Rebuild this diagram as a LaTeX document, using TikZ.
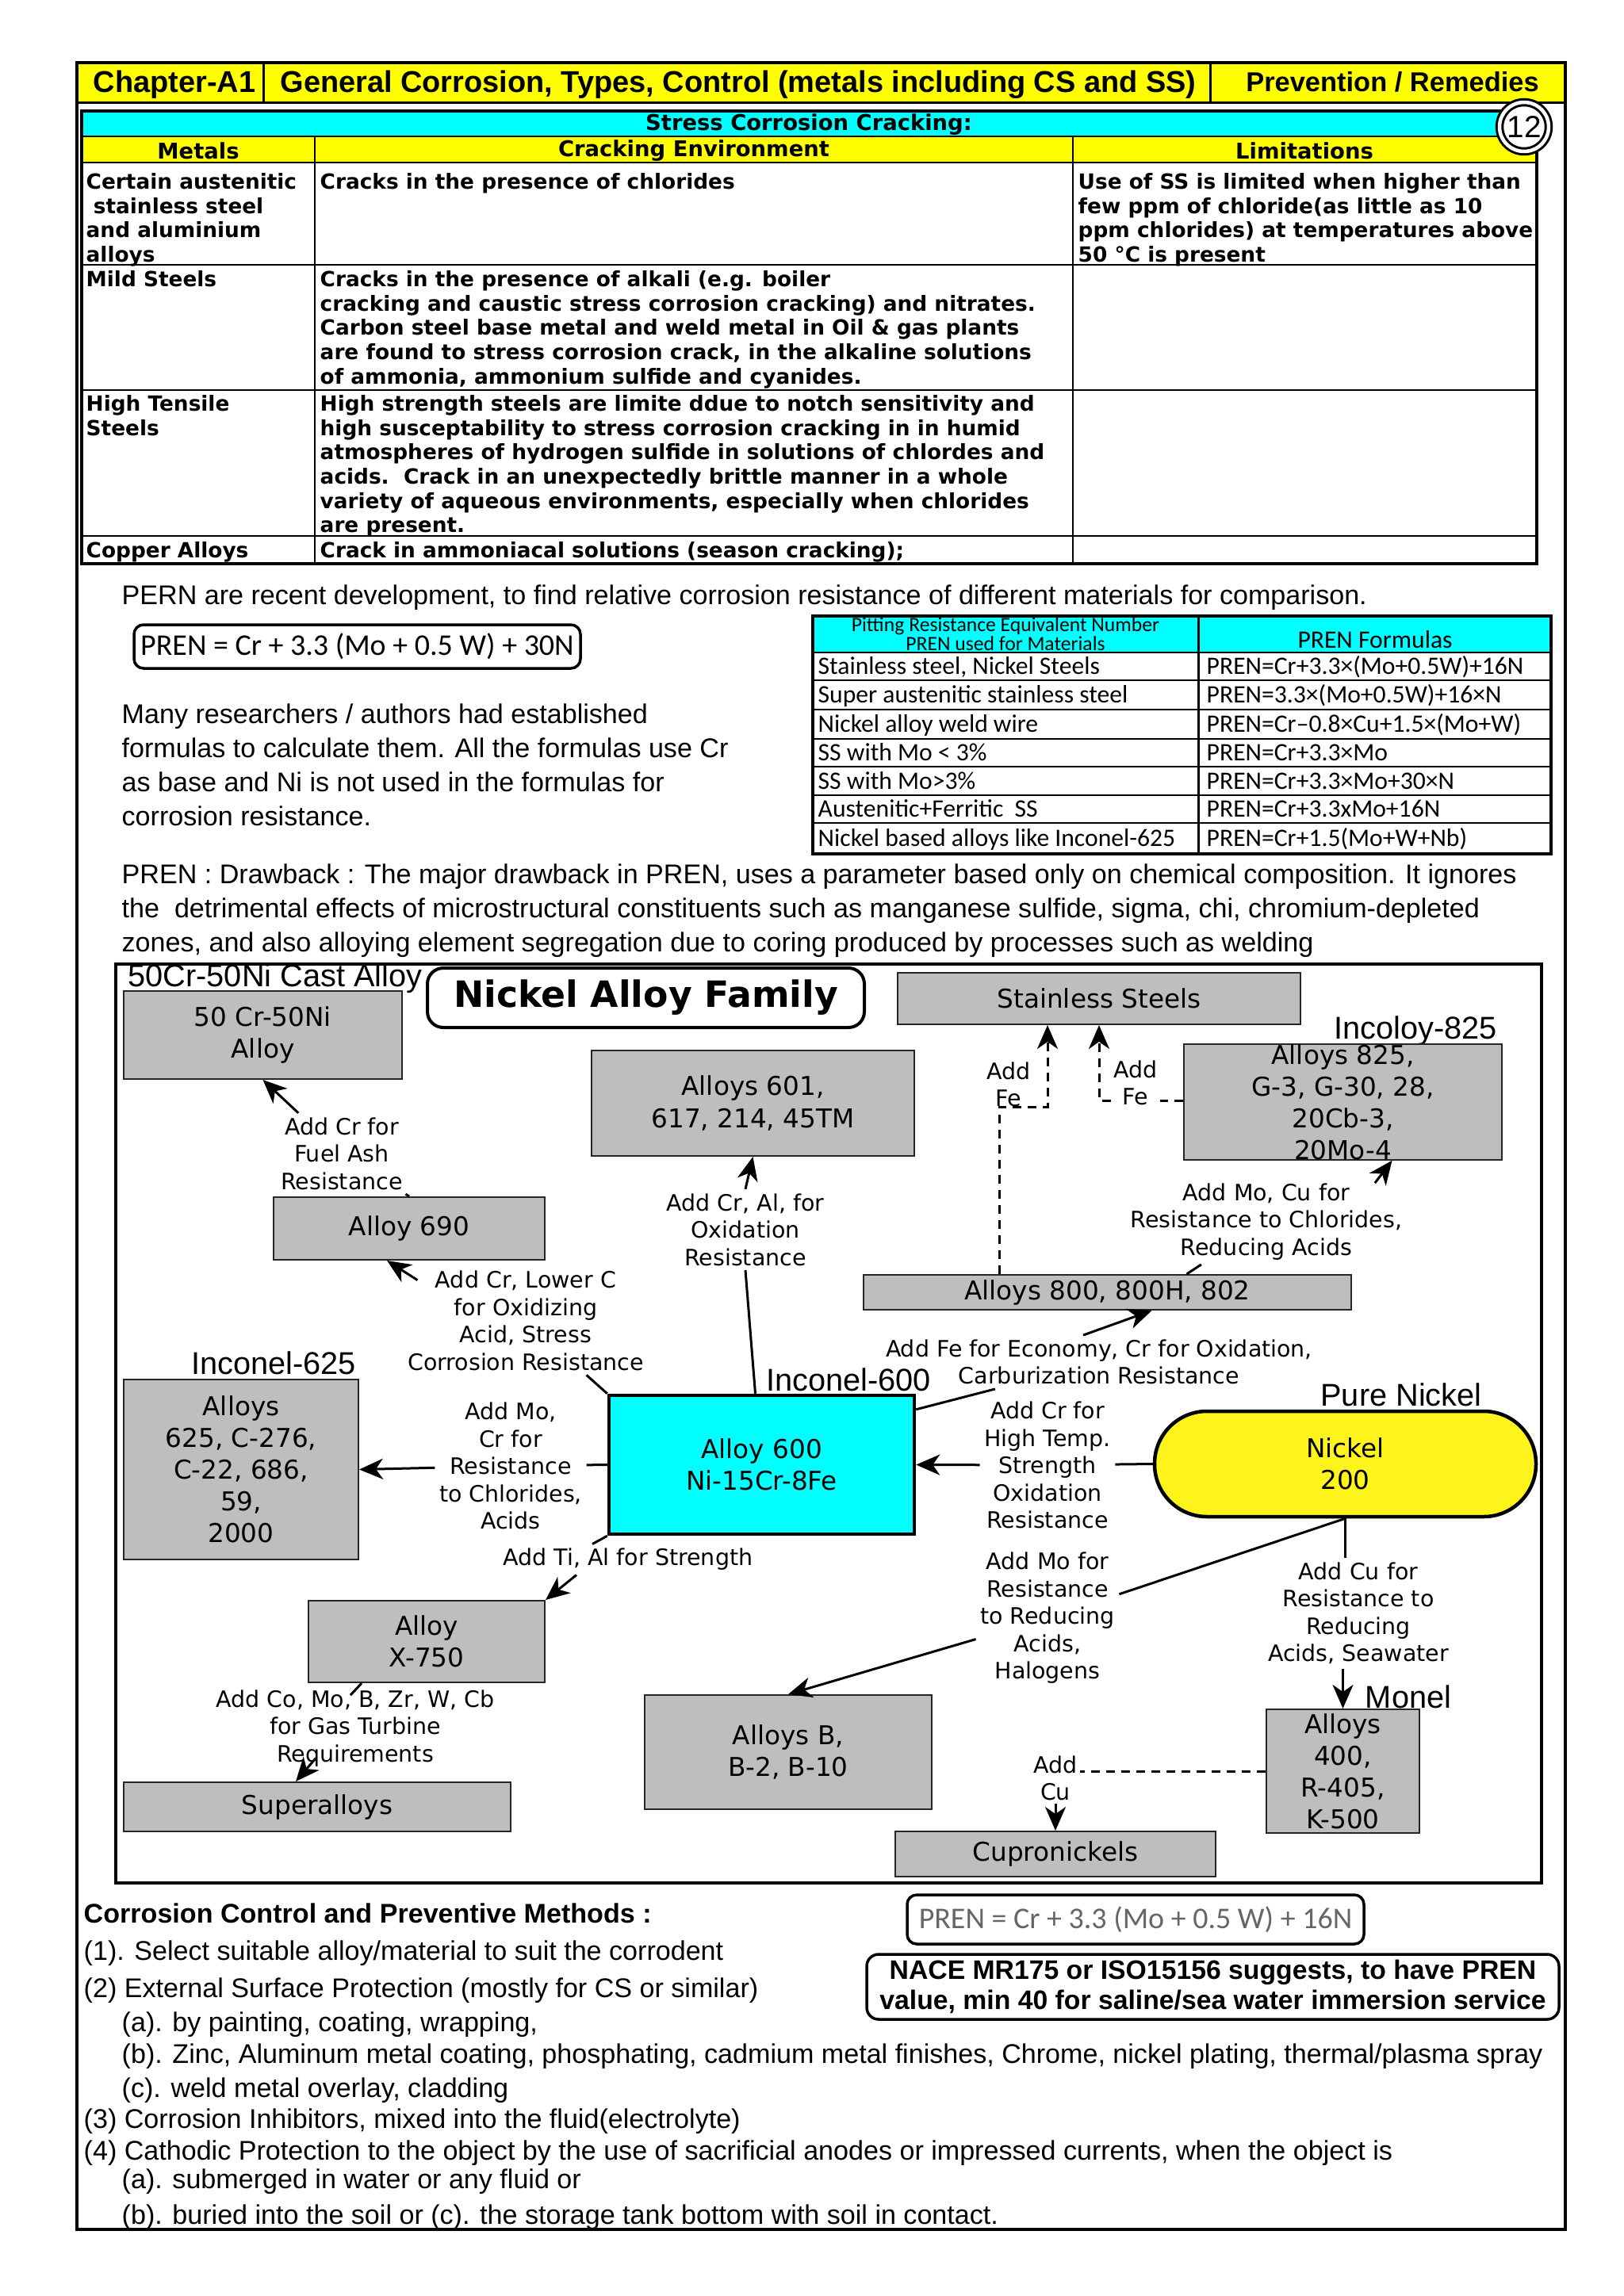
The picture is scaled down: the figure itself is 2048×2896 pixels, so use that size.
\documentclass[tikz,border=0pt]{standalone}
\usepackage{fontspec}
\setmainfont{Liberation Sans}
\newfontfamily\vfont{DejaVu Sans}
\newfontfamily\cfont{Carlito}
\usetikzlibrary{arrows.meta,calc}
\definecolor{Head}{HTML}{FFFF00}
\definecolor{Aqua}{HTML}{00FFFF}
\definecolor{Grey}{HTML}{BEBEBE}
\definecolor{NiYellow}{HTML}{FFF31C}
\tikzset{
  hd/.style={anchor=base,inner sep=0pt,font=\bfseries\fontsize{10.8}{13}\selectfont},
  th/.style={inner sep=0pt,font=\vfont\bfseries\fontsize{7.8}{9}\selectfont},
  cell/.style={anchor=north west,inner sep=0pt,align=left,font=\vfont\bfseries\fontsize{7.5}{8.7}\selectfont},
  body/.style={anchor=base west,inner sep=0pt,font=\fontsize{9.7}{12.2}\selectfont},
  para/.style={anchor=north west,inner sep=0pt,align=left,font=\fontsize{9.7}{12.2}\selectfont},
  frm/.style={draw,line width=0.35mm,rounded corners=1.2mm,inner sep=0pt,font=\cfont\fontsize{10.8}{13}\selectfont},
  pcell/.style={anchor=base west,inner sep=0pt,font=\cfont\fontsize{9}{10}\selectfont},
  box/.style={draw=black!85,line width=0.2mm,fill=Grey,inner sep=0pt,align=center,font=\vfont\fontsize{9.3}{11.4}\selectfont},
  lbl/.style={inner sep=0.5mm,align=center,font=\vfont\fontsize{8.1}{9.8}\selectfont},
  tag/.style={inner sep=0pt,font=\fontsize{11.3}{13}\selectfont},
  link/.style={line width=0.3mm},
  arr/.style={link,-{Stealth[length=3mm,width=2.6mm,inset=0.9mm]}},
  dsh/.style={link,dash pattern=on 1.1mm off 0.8mm}
}
\begin{document}
\begin{tikzpicture}[x=0.1mm,y=-0.1mm]
  \useasboundingbox (0,0) rectangle (2048,2896);
  \fill[white] (0,0) rectangle (2048,2896);

  % page header
  \fill[Head] (97,79) rectangle (1974,130);
  \node[hd] (hdch) at (220,117) {Chapter-A1};
  \node[hd] (hdgen) at (931,117) {General Corrosion, Types, Control (metals including CS and SS)};
  \node[hd,font=\bfseries\fontsize{9.8}{12}\selectfont] (hdprev) at (1756,116) {Prevention / Remedies};
  \draw[line width=0.3mm] (97,130) -- (1974,130) (332,79) -- (332,130) (1526,79) -- (1526,130);
  \draw[line width=0.4mm] (97,79) rectangle (1974,2812);

  % stress corrosion cracking table
  \fill[Aqua] (103,140) rectangle (1938,172);
  \fill[Head] (103,172) rectangle (1938,205);
  \draw[line width=0.25mm] (103,172) -- (1938,172) (103,205) -- (1938,205) (103,334) -- (1938,334)
    (103,492) -- (1938,492) (103,676) -- (1938,676) (397,172) -- (397,711) (1353,172) -- (1353,711);
  \draw[line width=0.35mm] (103,140) rectangle (1938,711);
  \node[th] (sccttl) at (1020,157) {Stress Corrosion Cracking:};
  \node[th] (thmet) at (250,190) {Metals};
  \node[th] (thenv) at (875,190) {Cracking Environment};
  \node[th] (thlim) at (1645,190) {Limitations};
  \node[draw,double,double distance=0.45mm,line width=0.3mm,fill=white,circle,minimum size=6.2mm,inner sep=0pt,
    font=\fontsize{11}{12}\selectfont] (circ12) at (1922,160) {12};

  \node[cell] (r1met) at (108,218) {Certain austenitic\\\ stainless steel\\and aluminium\\alloys};
  \node[cell] (r1env) at (403,218) {Cracks in the presence of chlorides};
  \node[cell] (r1lim) at (1359,218) {Use of SS is limited when higher than\\few ppm of chloride(as little as 10\\ppm chlorides) at temperatures above\\50 °C is present};
  \node[cell] (r2met) at (108,341) {Mild Steels};
  \node[cell] (r2env) at (403,341) {Cracks in the presence of alkali (e.g. boiler\\cracking and caustic stress corrosion cracking) and nitrates.\\Carbon steel base metal and weld metal in Oil \& gas plants\\are found to stress corrosion crack, in the alkaline solutions\\of ammonia, ammonium sulfide and cyanides.};
  \node[cell] (r3met) at (108,498) {High Tensile\\Steels};
  \node[cell] (r3env) at (403,498) {High strength steels are limite ddue to notch sensitivity and\\high susceptability to stress corrosion cracking in in humid\\atmospheres of hydrogen sulfide in solutions of chlordes and\\acids.\ \ Crack in an unexpectedly brittle manner in a whole\\variety of aqueous environments, especially when chlorides\\are present.};
  \node[cell] (r4met) at (108,683) {Copper Alloys};
  \node[cell] (r4env) at (403,683) {Crack in ammoniacal solutions (season cracking);};

  % PREN part
  \node[body] (pernintro) at (153,762) {PERN are recent development, to find relative corrosion resistance of different materials for comparison.};
  \node[frm,minimum width=56.3mm,minimum height=5.5mm] (pren30) at (450.5,815.5) {PREN = Cr + 3.3 (Mo + 0.5 W) + 30N};
  \node[para] (manyres) at (153,887) {Many researchers / authors had established\\formulas to calculate them. All the formulas use Cr\\as base and Ni is not used in the formulas for\\corrosion resistance.};

  \fill[Aqua] (1025,777) rectangle (1956,823);
  \draw[line width=0.2mm] (1025,823) -- (1956,823) (1025,858) -- (1956,858) (1025,895) -- (1956,895)
    (1025,932) -- (1956,932) (1025,967) -- (1956,967) (1025,1003) -- (1956,1003) (1025,1038) -- (1956,1038);
  \draw[line width=0.3mm] (1511,777) -- (1511,1077);
  \draw[line width=0.4mm] (1025,777) rectangle (1956,1077);
  \node[inner sep=0pt,font=\cfont\fontsize{7.3}{8}\selectfont] (prenth1) at (1268,790) {Pitting Resistance Equivalent Number};
  \node[inner sep=0pt,font=\cfont\fontsize{7.3}{8}\selectfont] (prenth2) at (1268,812) {PREN used for Materials};
  \node[inner sep=0pt,font=\cfont\fontsize{9}{10}\selectfont] (prenth3) at (1734,807) {PREN Formulas};
  \node[pcell] (pm1) at (1031,850) {Stainless steel, Nickel Steels};
  \node[pcell] (pf1) at (1521,850) {PREN=Cr+3.3×(Mo+0.5W)+16N};
  \node[pcell] (pm2) at (1031,886) {Super austenitic stainless steel};
  \node[pcell] (pf2) at (1521,886) {PREN=3.3×(Mo+0.5W)+16×N};
  \node[pcell] (pm3) at (1031,923) {Nickel alloy weld wire};
  \node[pcell] (pf3) at (1521,923) {PREN=Cr–0.8×Cu+1.5×(Mo+W)};
  \node[pcell] (pm4) at (1031,959) {SS with Mo < 3\%};
  \node[pcell] (pf4) at (1521,959) {PREN=Cr+3.3×Mo};
  \node[pcell] (pm5) at (1031,995) {SS with Mo>3\%};
  \node[pcell] (pf5) at (1521,995) {PREN=Cr+3.3×Mo+30×N};
  \node[pcell] (pm6) at (1031,1030) {Austenitic+Ferritic\ \ SS};
  \node[pcell] (pf6) at (1521,1030) {PREN=Cr+3.3xMo+16N};
  \node[pcell] (pm7) at (1031,1067) {Nickel based alloys like Inconel-625};
  \node[pcell] (pf7) at (1521,1067) {PREN=Cr+1.5(Mo+W+Nb)};

  \node[para] (drawback) at (153,1089) {PREN : Drawback : The major drawback in PREN, uses a parameter based only on chemical composition. It ignores\\the \ detrimental effects of microstructural constituents such as manganese sulfide, sigma, chi, chromium-depleted\\zones, and also alloying element segregation due to coring produced by processes such as welding};

  % nickel alloy family chart
  \draw[line width=0.35mm] (146,1216) rectangle (1944,2375);
  \node[tag] (castlbl) at (347,1234) {50Cr-50Ni Cast Alloy};
  \node[tag] (incoloylbl) at (1785,1300) {Incoloy-825};
  \node[tag] (inc625lbl) at (345,1719) {Inconel-625};
  \node[tag] (inc600lbl) at (1070,1740) {Inconel-600};
  \node[tag] (purelbl) at (1767,1759) {Pure Nickel};
  \node[tag] (monellbl) at (1776,2140) {Monel};

  \node[draw,line width=0.4mm,rounded corners=2mm,minimum width=55.1mm,minimum height=7.5mm,inner sep=0pt,
    font=\vfont\bfseries\fontsize{13}{15}\selectfont] (famtitle) at (814.5,1258.5) {Nickel Alloy Family};
  \node[box,minimum width=35.1mm,minimum height=11.1mm] (crni) at (331.5,1305.5) {50 Cr-50Ni\\Alloy};
  \node[box,minimum width=50.8mm,minimum height=6.5mm] (ss) at (1386,1259.5) {Stainless Steels};
  \node[box,minimum width=40.1mm,minimum height=14.2mm] (a825) at (1693.5,1390) {Alloys 825,\\G-3, G-30, 28,\\20Cb-3,\\20Mo-4};
  \node[box,minimum width=40.7mm,minimum height=13.3mm] (a601) at (949.5,1391.5) {Alloys 601,\\617, 214, 45TM};
  \node[box,minimum width=34.2mm,minimum height=7.9mm] (a690) at (516,1549.5) {Alloy 690};
  \node[box,minimum width=61.5mm,minimum height=4.4mm] (a800) at (1396.5,1630) {Alloys 800, 800H, 802};
  \node[box,minimum width=29.6mm,minimum height=22.7mm] (a625) at (304,1853.5) {Alloys\\625, C-276,\\C-22, 686,\\59,\\2000};
  \node[box,fill=Aqua,draw=black,line width=0.45mm,minimum width=38.5mm,minimum height=17.5mm] (a600) at (960.5,1847.5) {Alloy 600\\Ni-15Cr-8Fe};
  \node[box,fill=NiYellow,draw=black,line width=0.45mm,rounded corners=6.6mm,minimum width=48.1mm,minimum height=13.3mm] (ni200) at (1696.5,1846.5) {Nickel\\200};
  \node[box,minimum width=29.8mm,minimum height=10.3mm] (x750) at (538,2070.5) {Alloy\\X-750};
  \node[box,minimum width=36.2mm,minimum height=14.4mm] (aB) at (994,2210) {Alloys B,\\B-2, B-10};
  \node[box,minimum width=19.3mm,minimum height=15.6mm] (a400) at (1693.5,2234) {Alloys\\400,\\R-405,\\K-500};
  \node[box,minimum width=48.8mm,minimum height=6.2mm] (superalloys) at (400,2279) {Superalloys};
  \node[box,minimum width=40.4mm,minimum height=5.7mm] (cupro) at (1331,2338.5) {Cupronickels};

  \node[lbl] (l50) at (431,1455) {Add Cr for\\Fuel Ash\\Resistance};
  \node[lbl] (l690) at (663,1666) {Add Cr, Lower C\\for Oxidizing\\Acid, Stress\\Corrosion Resistance};
  \node[lbl] (l601) at (940,1551) {Add Cr, Al, for\\Oxidation\\Resistance};
  \node[lbl] (l800) at (1386,1718) {Add Fe for Economy, Cr for Oxidation,\\Carburization Resistance};
  \node[lbl,inner sep=0.3mm] (lfe1) at (1272,1368) {Add\\Fe};
  \node[lbl,inner sep=0.3mm] (lfe2) at (1432,1366) {Add\\Fe};
  \node[lbl] (l825) at (1597,1541) {Add Mo, Cu for\\Resistance to Chlorides,\\Reducing Acids};
  \node[lbl] (l600cr) at (1321,1848) {Add Cr for\\High Temp.\\Strength\\Oxidation\\Resistance};
  \node[lbl] (lB) at (1321,2041) {Add Mo for\\Resistance\\to Reducing\\Acids,\\Halogens};
  \node[lbl] (lmonel) at (1713,2035) {Add Cu for\\Resistance to\\Reducing\\Acids, Seawater};
  \node[lbl,inner sep=0.3mm] (lcu) at (1331,2243) {Add\\Cu};
  \node[lbl] (l625) at (644,1849) {Add Mo,\\Cr for\\Resistance\\to Chlorides,\\Acids};
  \node[lbl] (lx750) at (792,1967) {Add Ti, Al for Strength};
  \node[lbl] (lsuper) at (448,2180) {Add Co, Mo, B, Zr, W, Cb\\for Gas Turbine\\Requirements};

  \coordinate (fe1) at (1321,1396);
  \coordinate (fe2) at (1386,1388);

  % connectors
  \draw[link] (a690.north) -- (l50);
  \draw[arr] (l50) -- (crni.south);
  \draw[link] (a600.north west) -- (l690);
  \draw[arr] ($(l690.north west)+(18,17)$) -- ($(a690.south)+(-28,0)$);
  \draw[link] ([xshift=-0.8mm]a600.north) -- (l601.south);
  \draw[arr] (l601.north) -- (a601.south);
  \draw[link] ([yshift=-2mm]a600.north east) -- (l800);
  \draw[arr] ([xshift=-2mm]l800.north) -- ([xshift=5.6mm]a800.south);
  \draw[dsh,arr] ([xshift=-13.65mm]a800.north) |- (fe1) -- (fe1 |- ss.south);
  \draw[dsh] (a825.west |- fe2) -- (lfe2.east |- fe2);
  \draw[dsh,arr] (lfe2.west |- fe2) -- (fe2) -- (fe2 |- ss.south);
  \draw[link] ([xshift=10mm]a800.north) -- (l825);
  \draw[arr] ($(l825.north east)+(-40,5)$) -- ($(a825.south)+(62,0)$);
  \draw[link] (ni200.west) -- (l600cr);
  \draw[arr] (l600cr) -- (a600.east);
  \draw[link] (ni200.south) -- (lB);
  \draw[arr] (lB) -- (aB.north);
  \draw[link] (ni200.south) -- (ni200.south |- lmonel.north);
  \draw[arr] (lmonel.south -| a400.north) -- (a400.north);
  \draw[dsh] (a400.west) -- (a400.west -| lcu.east);
  \draw[arr] (lcu.south) -- (cupro.north);
  \draw[link] (a600.west) -- (l625);
  \draw[arr] (l625) -- (a625.east);
  \draw[link] (a600.south west) -- ($(lx750.north)+(-45,0)$);
  \draw[arr] ($(lx750.south)+(-65,0)$) -- (x750.north east);
  \draw[link] ($(x750.south)+(-82,0)$) -- ($(lsuper.north)+(-6,12)$);
  \draw[arr] ($(lsuper.south)+(-50,-16)$) -- ($(superalloys.north)+(-27,0)$);

  % control methods
  \node[body,font=\bfseries\fontsize{9.7}{12.2}\selectfont] (ccm) at (105,2425) {Corrosion Control and Preventive Methods :};
  \node[frm,minimum width=57.6mm,minimum height=6.2mm,text=black!60] (pren16) at (1432,2421) {PREN = Cr + 3.3 (Mo + 0.5 W) + 16N};
  \node[draw,line width=0.35mm,rounded corners=1.5mm,minimum width=87.3mm,minimum height=8.2mm,inner sep=0pt,align=center,
    font=\bfseries\fontsize{9.6}{11}\selectfont] (nace) at (1529.5,2506) {NACE MR175 or ISO15156 suggests, to have PREN\\value, min 40 for saline/sea water immersion service};
  \node[body] (cc1) at (105,2472) {(1). Select suitable alloy/material to suit the corrodent};
  \node[body] (cc2) at (105,2519) {(2) External Surface Protection (mostly for CS or similar)};
  \node[body] (cc2a) at (153,2562) {(a). by painting, coating, wrapping,};
  \node[body] (cc2b) at (153,2602) {(b). Zinc, Aluminum metal coating, phosphating, cadmium metal finishes, Chrome, nickel plating, thermal/plasma spray};
  \node[body] (cc2c) at (153,2645) {(c). weld metal overlay, cladding};
  \node[body] (cc3) at (105,2684) {(3) Corrosion Inhibitors, mixed into the fluid(electrolyte)};
  \node[body] (cc4) at (105,2724) {(4) Cathodic Protection to the object by the use of sacrificial anodes or impressed currents, when the object is};
  \node[body] (cc4a) at (153,2760) {(a). submerged in water or any fluid or};
  \node[body] (cc4b) at (153,2805) {(b). buried into the soil or (c). the storage tank bottom with soil in contact.};
\end{tikzpicture}
\end{document}
